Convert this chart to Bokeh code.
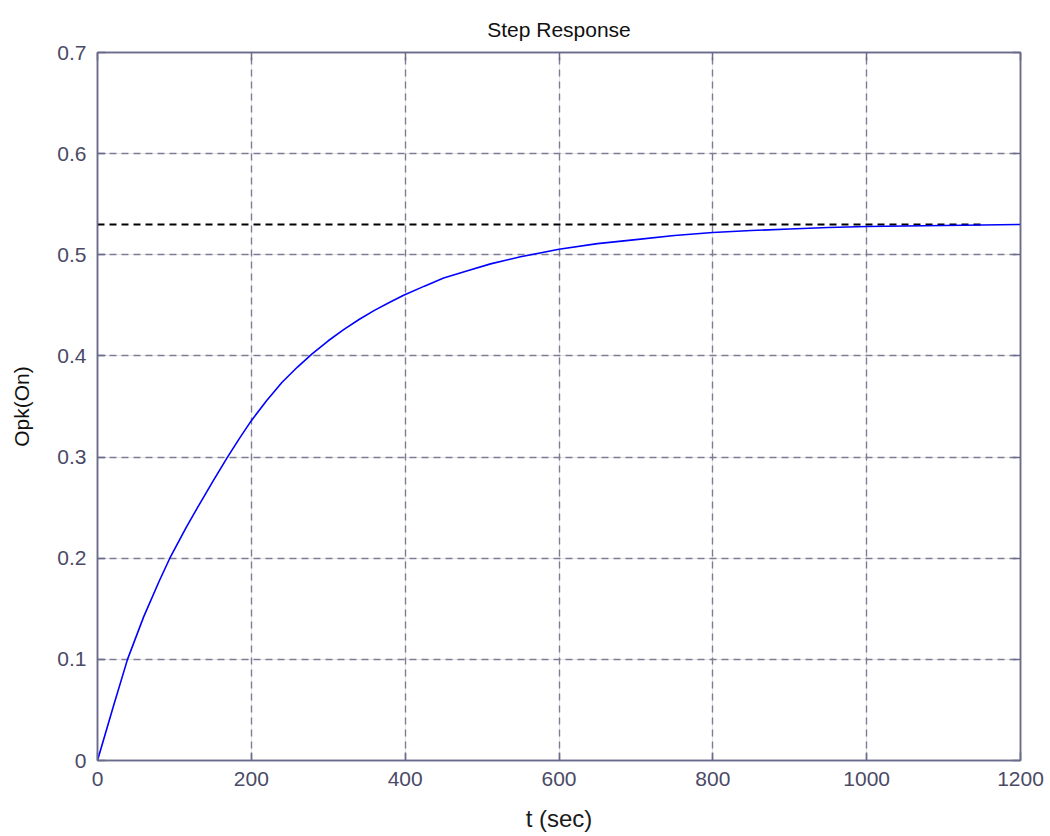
from bokeh.plotting import figure
from bokeh.models import LinearAxis, FixedTicker, PrintfTickFormatter, Range1d, Grid
from bokeh.embed import file_html
from bokeh.resources import INLINE

# Data
t_sec = [0, 20, 39, 60, 80, 94, 115, 130, 150, 169, 185, 200, 220, 240, 260, 279,
         300, 320, 340, 360, 380, 398, 425, 450, 480, 511, 550, 600, 650, 700, 750,
         800, 850, 900, 950, 1000, 1100, 1150, 1200]
response = [0, 0.052, 0.1, 0.142, 0.177, 0.2, 0.23, 0.25, 0.276, 0.3, 0.319, 0.336,
            0.356, 0.374, 0.389, 0.402, 0.415, 0.426, 0.436, 0.445, 0.453, 0.46, 0.469,
            0.477, 0.484, 0.491, 0.498, 0.5055, 0.511, 0.515, 0.519, 0.522, 0.524,
            0.5255, 0.527, 0.528, 0.529, 0.5295, 0.53]
final_t = [0, 1148]
final_value = [0.53, 0.53]
x_ticks = [0, 200, 400, 600, 800, 1000, 1200]
y_ticks = [0, 0.1, 0.2, 0.3, 0.4, 0.5, 0.6, 0.7]

FONT = "Liberation Sans"
AXIS_COLOR = "#6a6a8a"
GRID_COLOR = "#7c7c94"
LABEL_COLOR = "#4a4a66"

p = figure(width=1046, height=834, output_backend="svg", toolbar_location=None,
           x_range=Range1d(0, 1200), y_range=Range1d(0, 0.7),
           x_axis_location=None, y_axis_location=None,
           min_border_left=97, min_border_right=26, min_border_top=52, min_border_bottom=74)

p.title.text = "Step Response"
p.title.align = "center"
p.title.text_font = FONT
p.title.text_font_size = "21px"
p.title.text_font_style = "normal"
p.title.text_color = "#111111"
p.title.standoff = 24

p.outline_line_color = AXIS_COLOR
p.outline_line_width = 1.5
p.outline_line_alpha = 1.0


def make_axis(ticks, fmt, show_labels):
    ax = LinearAxis(ticker=FixedTicker(ticks=ticks), formatter=PrintfTickFormatter(format=fmt))
    ax.axis_line_color = AXIS_COLOR
    ax.axis_line_width = 1.5
    ax.major_tick_line_color = AXIS_COLOR
    ax.major_tick_line_width = 1.5
    ax.major_tick_in = 8
    ax.major_tick_out = 0
    ax.minor_tick_line_color = None
    ax.major_label_text_font = FONT
    ax.major_label_text_color = LABEL_COLOR
    if show_labels:
        ax.major_label_text_font_size = "21px"
    else:
        ax.major_label_text_font_size = "0px"
        ax.major_label_standoff = 0
    return ax


xb = make_axis(x_ticks, "%g", True)
xb.major_label_standoff = 11
xb.axis_label = "t (sec)"
xb.axis_label_text_font = FONT
xb.axis_label_text_font_size = "24px"
xb.axis_label_text_font_style = "normal"
xb.axis_label_text_color = "#1a1a1a"
xb.axis_label_standoff = 16
p.add_layout(xb, "below")

yl = make_axis(y_ticks, "%g", True)
yl.major_label_standoff = 11
yl.axis_label = "Opk(On)"
yl.axis_label_text_font = FONT
yl.axis_label_text_font_size = "21px"
yl.axis_label_text_font_style = "normal"
yl.axis_label_text_color = "#111111"
yl.axis_label_standoff = 21
p.add_layout(yl, "left")

xt = make_axis(x_ticks, "%g", False)
p.add_layout(xt, "above")
yr = make_axis(y_ticks, "%g", False)
p.add_layout(yr, "right")

p.add_layout(Grid(dimension=0, ticker=FixedTicker(ticks=x_ticks), grid_line_color=GRID_COLOR,
                  grid_line_dash="7 5", grid_line_width=1.4))
p.add_layout(Grid(dimension=1, ticker=FixedTicker(ticks=y_ticks), grid_line_color=GRID_COLOR,
                  grid_line_dash="7 5", grid_line_width=1.4))

p.line(final_t, final_value, line_color="black", line_dash="7 5", line_width=2)
p.line(t_sec, response, line_color="#0000ff", line_width=1.6)

open("out.html", "w").write(file_html(p, INLINE))
